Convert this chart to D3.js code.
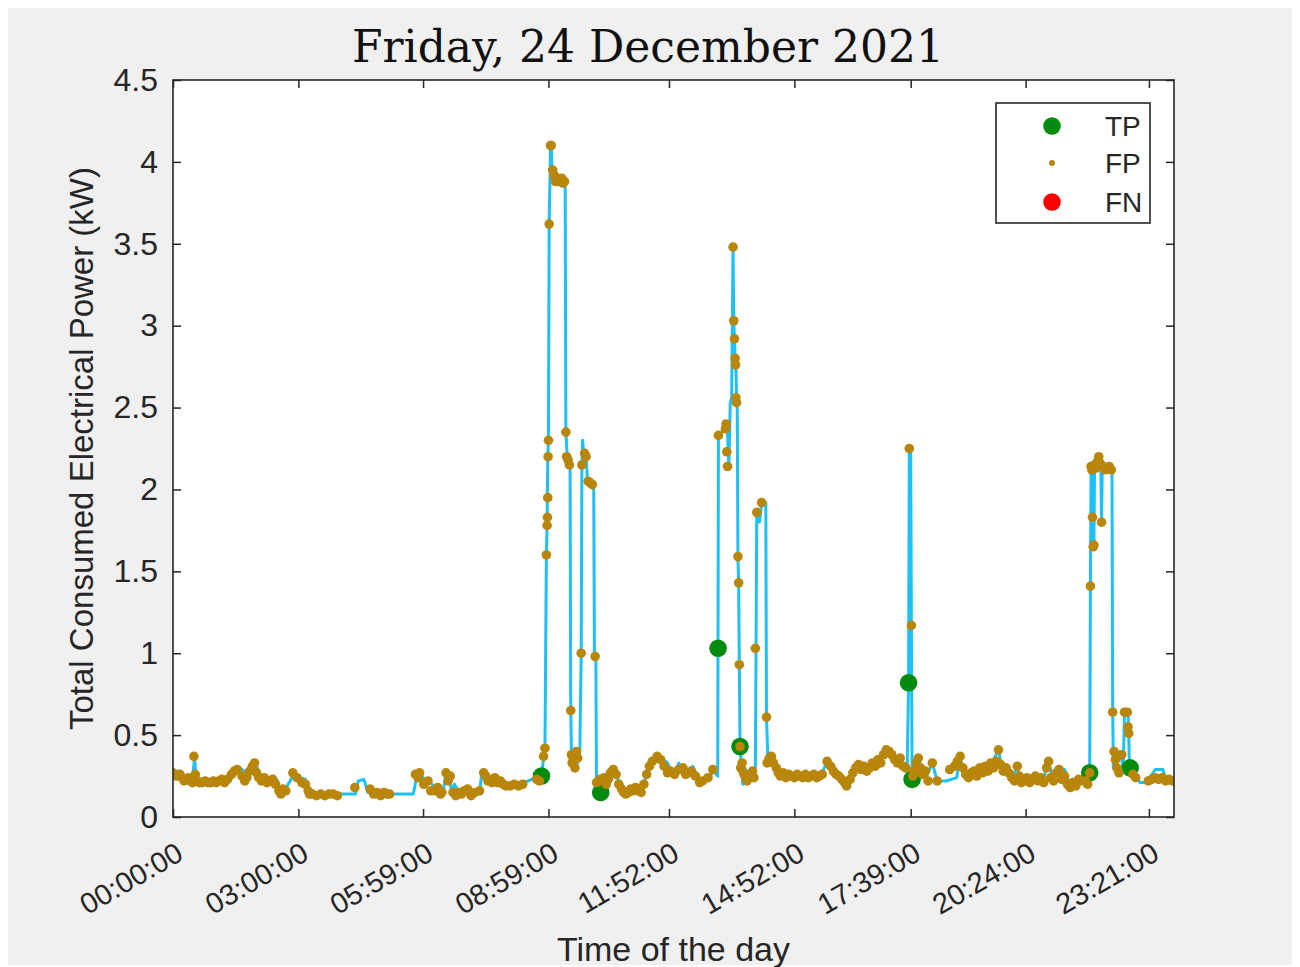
<!DOCTYPE html>
<html>
<head>
<meta charset="utf-8">
<script src="https://cdn.jsdelivr.net/npm/d3@7"></script>
<style>
  html, body { margin: 0; padding: 0; background: #ffffff; }
  svg { display: block; }
</style>
</head>
<body>
<svg id="chart" width="1300" height="967"></svg>
<script>
// ---------- DATA (time in minutes of the day, power in kW) ----------
const titleText = "Friday, 24 December 2021";
const xLabelText = "Time of the day";
const yLabelText = "Total Consumed Electrical Power (kW)";

const xTickValues = [0, 180, 359, 539, 712, 892, 1059, 1224, 1401];
const xTickLabels = ["00:00:00", "03:00:00", "05:59:00", "08:59:00", "11:52:00", "14:52:00", "17:39:00", "20:24:00", "23:21:00"];
const yTickValues = [0, 0.5, 1, 1.5, 2, 2.5, 3, 3.5, 4, 4.5];

// total consumed power (blue line)
const lineMin = [0,10,14,20,28,31,33,40,60,75,82,90,96,105,112,118,124,130,139,145,150,154,160,168,175,180,190,196,240,262,266,274,280,300,345,350,356,362,372,378,388,392,396,400,404,412,440,443,448,455,470,474,495,510,525,529,532,534,
  536,537,538,539,540,542,543,544,546,548,550,553,555,558,563,564,566,568,570,571,572,575,580,584,586,587,588,590,593,595,600,604,605,607,608,611,614,
  618,622,628,634,638,642,650,658,665,672,680,686,692,698,704,710,716,722,726,730,736,742,746,752,758,766,772,775,780,782,
  783,790,795,796,797,798,800,802,804,805,806,807,808,809,810,811,812,813,814,816,818,821,826,831,836,837,838,842,845,851,852,854,
  858,862,867,872,880,890,900,910,920,930,939,945,952,960,967,972,976,982,990,998,1005,1012,1018,1024,1030,1036,1042,1048,1054,1056,1057,1059,1060,1061,
  1064,1070,1075,1082,1090,1097,1110,1125,1130,1134,1140,1150,1158,1165,1172,1178,1185,1190,1198,1205,1212,1218,1230,1240,1250,1257,1262,1270,1280,1287,1296,1305,1313,1316,
  1317,1318,1320,1321,1322,1323,1328,1332,1333,1334,1340,1348,1349,1350,1355,1360,1364,1366,1371,1372,1373,1377,1384,1388,1398,1410,1421,1425,1437];
const lineKW = [0.28,0.28,0.25,0.24,0.24,0.36,0.24,0.22,0.21,0.21,0.22,0.28,0.30,0.27,0.30,0.33,0.27,0.23,0.22,0.25,0.22,0.15,0.16,0.22,0.27,0.24,0.23,0.14,0.14,0.14,0.22,0.23,0.15,0.14,0.14,0.25,0.26,0.22,0.20,0.16,0.16,0.27,0.24,0.16,0.20,0.14,0.14,0.26,0.27,0.23,0.22,0.18,0.19,0.22,0.25,0.25,0.36,0.42,
  1.60,1.78,2.20,2.30,3.62,4.10,4.10,3.95,3.90,3.88,3.88,3.90,3.87,3.87,3.88,2.35,2.20,2.15,2.15,0.65,0.38,0.35,0.32,0.40,1.00,2.15,2.30,2.20,2.22,2.05,2.03,2.00,0.98,0.98,0.20,0.15,0.15,
  0.22,0.20,0.28,0.30,0.25,0.17,0.15,0.16,0.18,0.15,0.26,0.30,0.35,0.37,0.35,0.33,0.27,0.28,0.33,0.27,0.30,0.27,0.31,0.26,0.22,0.23,0.25,0.29,0.26,0.25,
  2.33,2.36,2.40,2.37,2.23,2.14,2.53,2.56,3.48,3.03,2.92,2.80,2.76,2.56,2.53,1.59,1.43,0.93,0.43,0.32,0.20,0.30,0.26,0.28,0.30,1.03,1.86,1.80,1.92,1.92,0.61,0.35,
  0.37,0.33,0.30,0.25,0.26,0.24,0.26,0.25,0.26,0.25,0.34,0.30,0.27,0.24,0.20,0.22,0.28,0.32,0.30,0.28,0.31,0.35,0.36,0.40,0.39,0.35,0.34,0.30,0.30,0.82,2.25,2.25,1.17,0.23,
  0.27,0.34,0.30,0.25,0.33,0.22,0.22,0.24,0.38,0.28,0.25,0.27,0.30,0.32,0.27,0.35,0.41,0.30,0.27,0.25,0.30,0.22,0.22,0.25,0.24,0.34,0.25,0.29,0.29,0.20,0.20,0.22,0.25,0.27,
  1.41,2.14,2.15,1.83,1.65,2.16,2.20,2.12,1.80,2.15,2.13,2.12,0.64,0.30,0.39,0.40,0.30,0.64,0.64,0.52,0.29,0.31,0.24,0.21,0.21,0.29,0.29,0.23,0.22];

// false positives (brown dots)
const fpMin = [0,5,10,13,16,19,22,25,28,30,32,35,38,42,46,50,54,58,62,66,70,74,78,84,88,92,99,103,106,110,114,117,120,123,127,131,135,140,143,147,152,155,158,162,172,178,185,190,194,196,200,206,212,218,224,230,236,261,283,288,293,298,303,308,311,348,352,354,360,366,370,376,380,384,386,392,395,398,402,406,410,414,418,423,428,433,440,446,449,452,458,462,466,470,474,478,484,490,496,502,522,526,532,534,
  536,537,537.5,538,538.5,539,540,542,543,545,547,549,551,553,556,558,560,562,564,565,567,569,571,572,573,575,577,579,581,586,587,591,593,596,599,602,606,608,611,613,
  616,619,622,625,628,632,636,640,644,647,650,654,657,660,664,668,672,676,680,684,688,695,700,705,710,714,720,726,732,736,740,744,750,756,760,768,775,
  783,793,794,795,796,804,805,806,807,807.5,808,809,811,812,813,814,815,817,819,821,824,828,832,834,836,838,845,852,
  853,856,859,862,866,869,872,876,880,884,888,892,896,900,904,908,912,916,920,924,928,932,939,944,948,952,956,960,964,967,972,976,980,984,988,992,996,1000,1004,1008,1012,1016,1020,1024,1028,1032,1036,1040,1044,1048,1052,1057,1060,
  1062,1064,1067,1070,1073,1076,1080,1084,1090,1097,1115,1122,1126,1130,1134,1138,1142,1146,1150,1154,1158,1162,1166,1170,1174,1178,1182,1185,1188,1192,1196,1200,1204,1208,1212,1215,1218,1222,1226,1230,1234,1238,1242,1246,1250,1254,1257,1260,1264,1268,1272,1276,1280,1284,1288,1292,1296,1300,1304,1310,1313,1316,
  1317,1318,1319,1320,1321,1322,1323,1325,1327,1329,1331,1333,1335,1338,1341,1344,1347,1349,1351,1353,1355,1358,1362,1366,1370,1371,1372,1378,1382,1400,1405,1410,1415,1420,1425,1430,1435];
const fpKW = [0.27,0.25,0.26,0.24,0.22,0.23,0.24,0.22,0.21,0.37,0.26,0.22,0.21,0.21,0.22,0.21,0.21,0.22,0.21,0.22,0.23,0.21,0.23,0.26,0.28,0.29,0.25,0.22,0.24,0.28,0.31,0.33,0.27,0.24,0.22,0.24,0.21,0.22,0.23,0.20,0.16,0.14,0.17,0.16,0.27,0.24,0.21,0.20,0.16,0.14,0.14,0.13,0.14,0.13,0.14,0.14,0.13,0.18,0.17,0.14,0.15,0.13,0.15,0.14,0.14,0.26,0.24,0.27,0.20,0.22,0.16,0.16,0.18,0.14,0.15,0.27,0.22,0.25,0.15,0.13,0.15,0.14,0.16,0.17,0.13,0.15,0.16,0.27,0.25,0.22,0.21,0.24,0.21,0.22,0.20,0.19,0.19,0.20,0.19,0.20,0.23,0.22,0.37,0.42,
  1.60,1.78,1.83,1.95,2.20,2.30,3.62,4.10,4.10,3.95,3.92,3.88,3.90,3.88,3.88,3.90,3.87,3.88,2.35,2.20,2.18,2.15,0.65,0.38,0.33,0.35,0.30,0.40,0.36,1.00,2.15,2.22,2.20,2.05,2.04,2.03,0.98,0.21,0.22,0.23,
  0.22,0.24,0.20,0.23,0.27,0.29,0.26,0.20,0.17,0.15,0.14,0.15,0.17,0.16,0.18,0.16,0.15,0.20,0.26,0.31,0.34,0.37,0.35,0.31,0.27,0.28,0.26,0.29,0.30,0.26,0.27,0.28,0.25,0.21,0.22,0.24,0.29,
  2.33,2.37,2.40,2.23,2.14,3.48,3.03,2.92,2.80,2.76,2.56,2.53,1.59,1.43,0.93,0.43,0.30,0.33,0.27,0.25,0.22,0.24,0.28,0.24,1.03,1.86,1.92,0.61,
  0.33,0.36,0.37,0.33,0.30,0.27,0.25,0.27,0.24,0.26,0.25,0.24,0.26,0.25,0.24,0.26,0.24,0.25,0.26,0.24,0.25,0.26,0.34,0.31,0.28,0.26,0.25,0.23,0.21,0.19,0.23,0.27,0.30,0.32,0.29,0.31,0.28,0.30,0.33,0.31,0.35,0.33,0.38,0.41,0.40,0.38,0.35,0.33,0.36,0.31,0.30,2.25,1.17,
  0.25,0.28,0.33,0.36,0.30,0.26,0.28,0.22,0.33,0.22,0.29,0.31,0.34,0.37,0.30,0.26,0.24,0.27,0.28,0.25,0.30,0.27,0.31,0.28,0.33,0.30,0.34,0.41,0.32,0.28,0.30,0.27,0.24,0.22,0.31,0.25,0.21,0.22,0.24,0.21,0.23,0.25,0.22,0.24,0.21,0.30,0.34,0.24,0.22,0.27,0.29,0.23,0.25,0.20,0.18,0.21,0.19,0.23,0.22,0.22,0.20,0.27,
  1.41,2.14,2.12,1.83,1.65,1.66,2.15,2.13,2.17,2.20,2.16,1.80,2.14,2.12,2.13,2.14,2.12,0.64,0.40,0.35,0.30,0.27,0.38,0.64,0.64,0.55,0.51,0.26,0.24,0.22,0.23,0.24,0.23,0.24,0.22,0.23,0.22];

// true positives (green circles)
const tpMin = [529, 614, 782.5, 814, 1056, 1061, 1316, 1374];
const tpKW  = [0.25, 0.15, 1.03, 0.43, 0.82, 0.23, 0.27, 0.30];

// false negatives (red circles) - none on this day
const fnMin = [];
const fnKW  = [];

const legendNames = ["TP", "FP", "FN"];

// ---------- DRAWING ----------
const SANS = "'Liberation Sans', Arial, sans-serif";
const SERIF = "'DejaVu Serif', 'Liberation Serif', serif";
const svg = d3.select("#chart");
const plot = { left: 173, right: 1174, top: 80, bottom: 817 };
const colLine = "#1ec1f7", colFP = "#b8860b", colTP = "#008a0e", colFN = "#ff0000", colAxis = "#262626";

svg.append("rect").attr("x", 8).attr("y", 8).attr("width", 1284).attr("height", 957).attr("fill", "#f0f0f0");
svg.append("rect").attr("x", plot.left).attr("y", plot.top)
  .attr("width", plot.right - plot.left).attr("height", plot.bottom - plot.top).attr("fill", "#ffffff");

const x = d3.scaleLinear().domain([0, 1437]).range([plot.left, plot.right]);
const y = d3.scaleLinear().domain([0, 4.5]).range([plot.bottom, plot.top]);

svg.append("clipPath").attr("id", "clip").append("rect")
  .attr("x", plot.left).attr("y", plot.top).attr("width", plot.right - plot.left).attr("height", plot.bottom - plot.top);

const g = svg.append("g").attr("clip-path", "url(#clip)");
const lineData = lineMin.map((m, i) => [m, lineKW[i]]);
g.append("path").datum(lineData)
  .attr("d", d3.line().x(d => x(d[0])).y(d => y(d[1])))
  .attr("fill", "none").attr("stroke", colLine).attr("stroke-width", 3).attr("stroke-linejoin", "round");

g.selectAll("circle.tp").data(tpMin.map((m, i) => [m, tpKW[i]])).join("circle")
  .attr("class", "tp").attr("cx", d => x(d[0])).attr("cy", d => y(d[1])).attr("r", 8.8).attr("fill", colTP);
g.selectAll("circle.fn").data(fnMin.map((m, i) => [m, fnKW[i]])).join("circle")
  .attr("class", "fn").attr("cx", d => x(d[0])).attr("cy", d => y(d[1])).attr("r", 8.8).attr("fill", colFN);
g.selectAll("circle.fp").data(fpMin.map((m, i) => [m, fpKW[i]])).join("circle")
  .attr("class", "fp").attr("cx", d => x(d[0])).attr("cy", d => y(d[1])).attr("r", 4.8).attr("fill", colFP);

// axes (ticks inward on all four sides)
const tl = 8;
const axL = svg.append("g").attr("transform", `translate(${plot.left},0)`)
  .call(d3.axisLeft(y).tickValues(yTickValues).tickFormat(d => String(d)).tickSize(-tl).tickPadding(15));
const axR = svg.append("g").attr("transform", `translate(${plot.right},0)`)
  .call(d3.axisRight(y).tickValues(yTickValues).tickFormat("").tickSize(-tl));
const axB = svg.append("g").attr("transform", `translate(0,${plot.bottom})`)
  .call(d3.axisBottom(x).tickValues(xTickValues).tickFormat("").tickSize(-tl));
const axT = svg.append("g").attr("transform", `translate(0,${plot.top})`)
  .call(d3.axisTop(x).tickValues(xTickValues).tickFormat("").tickSize(-tl));
[axL, axR, axB, axT].forEach(a => {
  a.select(".domain").remove();
  a.selectAll("line").attr("stroke", colAxis).attr("stroke-width", 1.5);
});
axL.selectAll("text").attr("font-size", 32).attr("font-family", SANS).attr("fill", colAxis);

svg.append("rect").attr("x", plot.left).attr("y", plot.top)
  .attr("width", plot.right - plot.left).attr("height", plot.bottom - plot.top)
  .attr("fill", "none").attr("stroke", colAxis).attr("stroke-width", 1.6);

// rotated x tick labels
svg.append("g").selectAll("text").data(xTickValues).join("text")
  .attr("transform", d => `translate(${x(d) + 7},${850}) rotate(-30)`)
  .attr("text-anchor", "end").attr("dy", "0.35em")
  .attr("font-family", SANS).attr("fill", colAxis)
  .attr("font-size", 29).text((d, i) => xTickLabels[i]);

// titles
svg.append("text").attr("x", 648).attr("y", 62).attr("text-anchor", "middle")
  .attr("font-family", SERIF).attr("font-size", 44).attr("fill", "#111").text(titleText);
svg.append("text").attr("x", (plot.left + plot.right) / 2).attr("y", 961).attr("text-anchor", "middle")
  .attr("font-family", SANS).attr("fill", colAxis).attr("font-size", 34).text(xLabelText);
svg.append("text").attr("transform", `translate(93,${(plot.top + plot.bottom) / 2}) rotate(-90)`)
  .attr("text-anchor", "middle").attr("font-family", SANS).attr("fill", colAxis).attr("font-size", 33).text(yLabelText);

// legend
const lg = svg.append("g");
lg.append("rect").attr("x", 996).attr("y", 103).attr("width", 154).attr("height", 120)
  .attr("fill", "#fff").attr("stroke", colAxis).attr("stroke-width", 1.6);
const legColors = [colTP, colFP, colFN], legR = [8.8, 3, 8.8], legY = [126, 163, 202];
legendNames.forEach((name, i) => {
  lg.append("circle").attr("cx", 1052).attr("cy", legY[i]).attr("r", legR[i]).attr("fill", legColors[i]);
  lg.append("text").attr("x", 1105).attr("y", legY[i]).attr("dy", "0.36em")
    .attr("font-family", SANS).attr("fill", colAxis).attr("font-size", 28).text(name);
});
</script>
</body>
</html>
